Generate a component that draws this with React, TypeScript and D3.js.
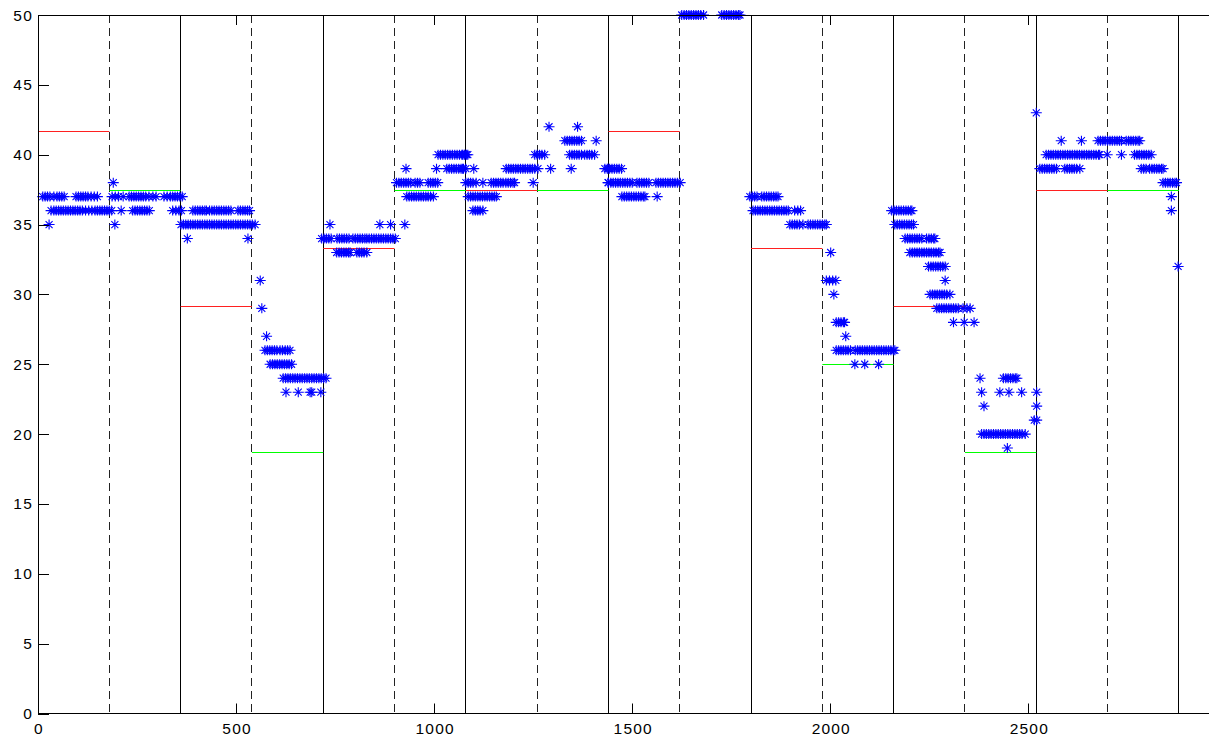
import * as d3 from 'd3';
import React, { useRef, useEffect } from 'react';

// segment boundaries (solid) and mid boundaries (dashed)
const blockEdges = [360, 720, 1080, 1440, 1800, 2160, 2520, 2880];
const midEdges = [180, 540, 900, 1260, 1620, 1980, 2340, 2700];
// red level for first half of each block, green for second half
const blockStarts = [0, 360, 720, 1080, 1440, 1800, 2160, 2520];
const redLevels = [41.67, 29.17, 33.33, 37.5, 41.67, 33.33, 29.17, 37.5];
const greenLevels = [37.5, 18.75, 37.5, 37.5, 50, 25, 18.75, 37.5];

const xTicks = [0, 500, 1000, 1500, 2000, 2500];
const yTicks = [0, 5, 10, 15, 20, 25, 30, 35, 40, 45, 50];

// blue stars, as [y, [x ...]] rows
const rows1: [number, number[]][] = [
  [37, [12, 18, 24, 30, 40, 48, 54, 60, 66, 96, 102, 108, 114, 120, 126, 134, 142, 150]],
  [36, [33, 40, 46, 52, 58, 64, 70, 76, 82, 88, 94, 100, 106, 112, 120, 128, 136, 144, 150, 156, 162, 168, 174, 180, 186]],
  [35, [28]],
  [38, [190]],
  [35, [194]],
  [37, [187, 195, 203, 215, 230, 236, 242, 248, 254, 260, 266, 272, 280, 290, 298, 318, 326, 334, 340, 346, 352, 358, 364]],
  [36, [210, 239, 245, 251, 257, 263, 269, 275, 281, 340, 348, 356, 362]],
];
const rows2: [number, number[]][] = [
  [36, [391, 397, 403, 409, 415, 421, 425, 433, 439, 445, 451, 457, 463, 469, 475, 481, 487, 505, 511, 517, 523, 529, 534]],
  [35, [361, 367, 373, 379, 385, 391, 397, 403, 409, 415, 421, 427, 433, 439, 445, 451, 457, 463, 469, 475, 481, 487, 493, 499, 505, 511, 517, 523, 529, 535, 541, 548]],
  [34, [377, 530]],
  [31, [561]],
  [29, [565]],
  [27, [577]],
  [26, [573, 579, 585, 591, 597, 603, 611, 617, 624, 630, 636]],
  [25, [586, 592, 598, 604, 610, 616, 622, 628, 634, 640]],
  [24, [619, 625, 631, 637, 643, 649, 655, 661, 667, 673, 679, 685, 691, 697, 703, 709, 715, 721, 727]],
  [23, [626, 657, 687, 691, 714]],
];
const rows3: [number, number[]][] = [
  [35, [737, 863, 890, 926]],
  [34, [716, 722, 728, 734, 740, 755, 761, 767, 773, 779, 785, 795, 801, 807, 813, 819, 825, 830, 836, 842, 848, 854, 860, 866, 872, 878, 884, 890, 896, 902]],
  [33, [754, 760, 766, 772, 778, 784, 788, 805, 811, 817, 823, 830]],
  [40, [1010, 1016, 1022, 1028, 1034, 1040, 1046, 1052, 1058, 1064, 1070, 1076, 1082]],
  [39, [929, 1006, 1032, 1038, 1044, 1050, 1056, 1062, 1068, 1074, 1080]],
  [38, [905, 911, 917, 923, 929, 935, 941, 952, 958, 964, 985, 991, 997, 1003, 1009]],
  [37, [931, 937, 943, 949, 955, 961, 967, 973, 979, 985, 991, 998]],
];
const rows4: [number, number[]][] = [
  [40, [1072, 1078, 1085, 1254, 1260, 1266, 1272, 1279, 1342, 1348, 1354, 1360, 1366, 1372, 1380, 1386, 1392, 1398, 1405]],
  [39, [1072, 1100, 1182, 1188, 1194, 1200, 1206, 1212, 1218, 1224, 1230, 1236, 1242, 1248, 1254, 1262, 1294, 1346, 1439]],
  [38, [1080, 1086, 1092, 1098, 1106, 1123, 1144, 1150, 1156, 1162, 1168, 1174, 1181, 1187, 1193, 1199, 1203, 1250, 1439]],
  [37, [1086, 1092, 1098, 1104, 1110, 1116, 1122, 1128, 1134, 1140, 1146, 1152, 1157]],
  [36, [1098, 1104, 1110, 1116, 1123]],
  [42, [1290, 1362]],
  [41, [1330, 1336, 1342, 1348, 1354, 1360, 1366, 1372, 1409]],
];
const rows5: [number, number[]][] = [
  [39, [1431, 1437, 1443, 1449, 1455, 1461, 1467, 1473]],
  [38, [1440, 1446, 1452, 1458, 1464, 1470, 1476, 1482, 1488, 1494, 1500, 1512, 1518, 1524, 1530, 1536, 1542, 1560, 1566, 1572, 1578, 1584, 1590, 1596, 1602, 1608, 1614, 1621]],
  [37, [1474, 1480, 1486, 1492, 1498, 1504, 1510, 1516, 1522, 1528, 1532, 1563]],
  [50, [1625, 1631, 1637, 1643, 1649, 1655, 1661, 1667, 1673, 1680, 1726, 1732, 1738, 1744, 1750, 1756, 1762, 1768, 1772]],
];
const rows6: [number, number[]][] = [
  [37, [1797, 1803, 1809, 1815, 1827, 1833, 1839, 1845, 1851, 1857, 1863, 1868]],
  [36, [1805, 1811, 1817, 1823, 1829, 1835, 1841, 1847, 1853, 1859, 1865, 1871, 1877, 1883, 1889, 1894, 1910, 1918, 1925]],
  [35, [1898, 1904, 1910, 1916, 1922, 1931, 1944, 1950, 1956, 1962, 1968, 1974, 1980, 1986, 1990]],
  [33, [2001]],
  [31, [1990, 1998, 2006, 2014]],
  [30, [2009]],
  [28, [2015, 2021, 2027, 2033, 2036]],
  [27, [2039]],
  [26, [2015, 2021, 2027, 2033, 2039, 2045, 2051, 2063, 2069, 2075, 2081, 2087, 2093, 2099, 2105, 2111, 2117, 2123, 2129, 2135, 2141, 2147, 2153, 2159, 2163]],
  [25, [2062, 2087, 2122]],
];
const rows7: [number, number[]][] = [
  [36, [2155, 2161, 2167, 2173, 2179, 2185, 2191, 2197, 2203, 2206]],
  [35, [2163, 2169, 2175, 2181, 2187, 2193, 2199, 2205, 2210]],
  [34, [2189, 2195, 2201, 2207, 2213, 2219, 2225, 2231, 2243, 2249, 2255, 2261, 2264]],
  [33, [2201, 2207, 2213, 2219, 2225, 2231, 2237, 2243, 2249, 2255, 2261, 2267, 2273, 2277]],
  [32, [2248, 2254, 2260, 2266, 2272, 2278, 2284, 2290]],
  [31, [2290]],
  [30, [2252, 2258, 2264, 2270, 2276, 2282, 2288, 2294, 2302]],
  [29, [2269, 2275, 2281, 2287, 2293, 2299, 2305, 2311, 2317, 2323, 2335, 2345, 2353]],
  [28, [2311, 2338, 2363]],
  [24, [2378, 2437, 2443, 2449, 2455, 2461, 2467, 2471]],
  [23, [2382, 2428, 2451, 2483, 2521]],
  [22, [2388, 2521]],
  [21, [2515, 2521]],
  [20, [2382, 2388, 2394, 2400, 2406, 2412, 2418, 2424, 2430, 2436, 2442, 2448, 2454, 2460, 2466, 2472, 2478, 2484, 2492]],
  [19, [2447]],
];
const rows8: [number, number[]][] = [
  [43, [2520]],
  [41, [2583, 2634, 2676, 2682, 2688, 2694, 2700, 2706, 2712, 2718, 2724, 2730, 2735, 2747, 2753, 2759, 2765, 2771, 2777, 2781]],
  [40, [2545, 2551, 2557, 2563, 2569, 2575, 2581, 2587, 2593, 2599, 2605, 2611, 2617, 2623, 2629, 2635, 2641, 2647, 2653, 2659, 2665, 2671, 2677, 2680, 2699, 2735, 2768, 2774, 2780, 2786, 2792, 2798, 2804, 2810]],
  [39, [2529, 2535, 2541, 2547, 2553, 2559, 2565, 2571, 2592, 2598, 2604, 2610, 2616, 2622, 2630, 2785, 2791, 2797, 2806, 2812, 2818, 2824, 2830, 2836, 2840]],
  [38, [2840, 2846, 2852, 2858, 2864, 2870, 2874]],
  [37, [2861]],
  [36, [2861]],
  [32, [2878]],
];

const W = 1214;
const H = 743;

function App() {
  const ref = useRef(null);

  useEffect(() => {
    const svg = d3.select(ref.current);
    svg.selectAll('*').remove();

    const left = 38, right = 1209, top = 15, bottom = 713.5;
    const x = d3.scaleLinear().domain([0, 2956]).range([left, right]);
    const y = d3.scaleLinear().domain([0, 50]).range([bottom, top]);
    const px = (v: number) => Math.floor(x(v)) + 0.5;

    const g = svg.append('g');

    // solid block lines
    g.selectAll('line.solid').data(blockEdges).enter().append('line')
      .attr('x1', d => px(d)).attr('x2', d => px(d))
      .attr('y1', y(0)).attr('y2', y(50))
      .attr('stroke', '#000').attr('stroke-width', 1);
    // dashed mid lines
    g.selectAll('line.dash').data(midEdges).enter().append('line')
      .attr('x1', d => px(d)).attr('x2', d => px(d))
      .attr('y1', y(50)).attr('y2', y(0))
      .attr('stroke', '#222').attr('stroke-width', 1)
      .attr('stroke-dasharray', '8,5');

    // red and green level segments
    g.selectAll('line.red').data(blockStarts).enter().append('line')
      .attr('x1', d => x(d)).attr('x2', d => x(d + 180))
      .attr('y1', (d, i) => Math.round(y(redLevels[i])) + 0.5)
      .attr('y2', (d, i) => Math.round(y(redLevels[i])) + 0.5)
      .attr('stroke', '#ff2020').attr('stroke-width', 1);
    g.selectAll('line.green').data(blockStarts).enter().append('line')
      .attr('x1', d => x(d + 180)).attr('x2', d => x(d + 360))
      .attr('y1', (d, i) => Math.round(y(greenLevels[i])) + 0.5)
      .attr('y2', (d, i) => Math.round(y(greenLevels[i])) + 0.5)
      .attr('stroke', '#00ff00').attr('stroke-width', 1);

    // stars
    const pts: [number, number][] = [];
    [rows1, rows2, rows3, rows4, rows5, rows6, rows7, rows8].forEach(rows => {
      rows.forEach(([yv, xs]) => xs.forEach(xv => pts.push([xv, yv])));
    });
    const star = 'M-5.5,0H5.5M0,-5V5M-3.5,-3.5L3.5,3.5M-3.5,3.5L3.5,-3.5';
    g.selectAll('path.star').data(pts).enter().append('path')
      .attr('d', star)
      .attr('transform', d => `translate(${x(d[0])},${y(d[1])})`)
      .attr('stroke', '#0000ff').attr('stroke-width', 1.1).attr('fill', 'none');

    // axes frame: left, bottom, top
    const ax = svg.append('g').attr('stroke', '#000').attr('stroke-width', 1);
    ax.append('line').attr('x1', left + 0.5).attr('x2', left + 0.5).attr('y1', top).attr('y2', bottom);
    ax.append('line').attr('x1', left).attr('x2', right).attr('y1', bottom).attr('y2', bottom);
    ax.append('line').attr('x1', left).attr('x2', right).attr('y1', top + 0.5).attr('y2', top + 0.5);

    // ticks
    xTicks.forEach(t => {
      const tx = px(t);
      ax.append('line').attr('x1', tx).attr('x2', tx).attr('y1', bottom).attr('y2', bottom - 10);
      ax.append('line').attr('x1', tx).attr('x2', tx).attr('y1', top).attr('y2', top + 10);
    });
    yTicks.forEach(t => {
      const py = Math.round(y(t)) + 0.5;
      ax.append('line').attr('x1', left).attr('x2', left + 11).attr('y1', py).attr('y2', py);
    });

    const lab = svg.append('g')
      .attr('font-family', '"Liberation Sans", Arial, sans-serif')
      .attr('font-size', 15.5).attr('fill', '#000');
    lab.selectAll('text.x').data(xTicks).enter().append('text')
      .attr('x', d => x(d) + 1).attr('y', 733.5)
      .attr('text-anchor', 'middle')
      .attr('letter-spacing', 1.2)
      .text(d => String(d));
    lab.selectAll('text.y').data(yTicks).enter().append('text')
      .attr('x', 33).attr('y', d => y(d) + 5.5)
      .attr('text-anchor', 'end')
      .attr('letter-spacing', 1.2)
      .text(d => String(d));
  }, []);

  return (
    <div style={{ position: 'absolute', left: 0, top: 0, background: '#fff' }}>
      <svg ref={ref} width={W} height={H} style={{ display: 'block' }}></svg>
    </div>
  );
}

export default App;
